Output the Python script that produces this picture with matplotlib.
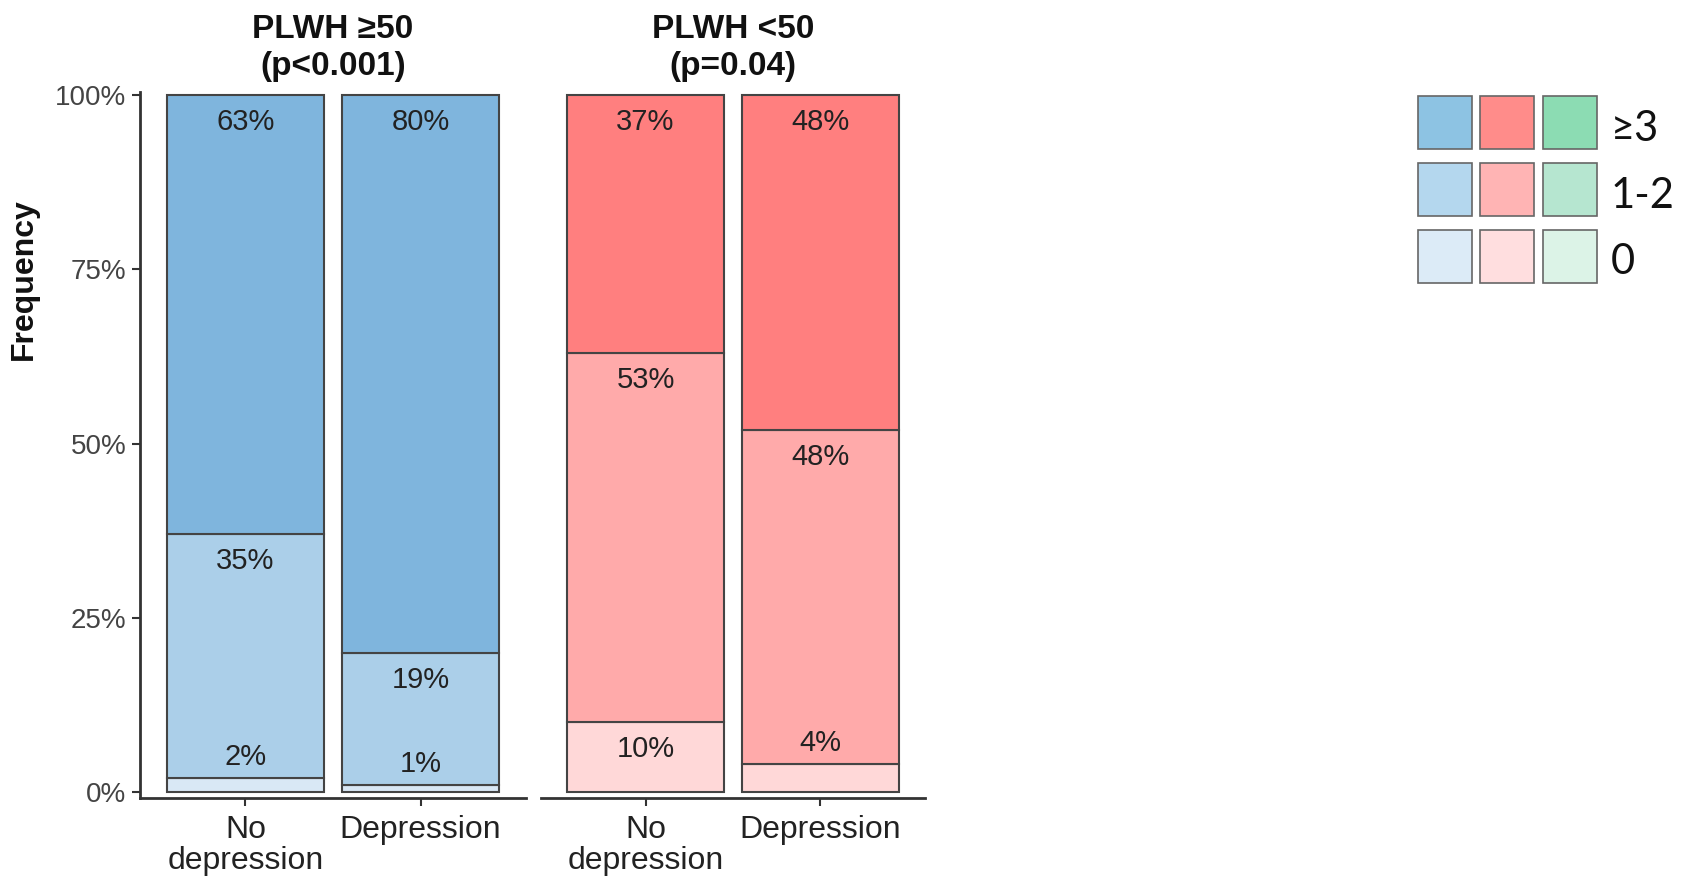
import matplotlib
matplotlib.use("Agg")
import matplotlib.pyplot as plt
from matplotlib.patches import Rectangle
import numpy as np

# ---------------- data ----------------
groups = ["No\ndepression", "Depression"]
panel_titles = ["PLWH \u226550\n(p<0.001)", "PLWH <50\n(p=0.04)"]
levels = ["0", "1-2", "\u22653"]
# percentages per level (0, 1-2, >=3) for each group
older_0 = [2, 1]
older_12 = [35, 19]
older_3 = [63, 80]
younger_0 = [10, 4]
younger_12 = [53, 48]
younger_3 = [37, 48]
yticks = [0, 25, 50, 75, 100]
ytick_labels = ["0%", "25%", "50%", "75%", "100%"]
legend_labels = ["\u22653", "1-2", "0"]
ylabel = "Frequency"

# ---------------- style ----------------
blue = ["#D9E8F5", "#ABCFE9", "#7FB5DD"]
red = ["#FFD8D8", "#FFAAAA", "#FF7F7F"]
legend_cols = [
    ["#8DC3E3", "#FF8C8A", "#8CDCB3"],
    ["#B4D7EE", "#FFB4B4", "#B6E6D0"],
    ["#DCEBF7", "#FFDEDF", "#DCF3E7"],
]
edge = "#444444"
txt = "#222222"
sans = ["Liberation Sans", "DejaVu Sans"]
plt.rcParams["font.family"] = sans

W, H = 1690, 886
fig = plt.figure(figsize=(W / 100, H / 100), dpi=100)


def px_axes(left, top, right, bottom):
    return fig.add_axes([left / W, 1 - bottom / H, (right - left) / W, (bottom - top) / H])


ymin, ymax = -0.86, 100.5
y0px, y100px = 792, 95
ppu = (y0px - y100px) / 100.0
ax_top = y100px - (ymax - 100) * ppu
ax_bot = y0px - ymin * ppu

panels = [
    (px_axes(140.5, ax_top, 525.5, ax_bot), [older_0, older_12, older_3], blue, True),
    (px_axes(540.5, ax_top, 925.5, ax_bot), [younger_0, younger_12, younger_3], red, False),
]

x = np.arange(1, len(groups) + 1)
for (ax, series, cols, show_y), title in zip(panels, panel_titles):
    bottom = np.zeros(len(groups))
    for vals, c in zip(series, cols):
        vals = np.array(vals, dtype=float)
        ax.bar(x, vals, bottom=bottom, width=0.9, color=c, edgecolor=edge, linewidth=1.5, zorder=2)
        tops = bottom + vals
        for xi, v, t in zip(x, vals, tops):
            off = 15 if v < 5 else -19.5
            ax.annotate(f"{int(v)}%", (xi, t), xytext=(0, off), textcoords="offset points",
                        ha="center", va="center", fontsize=21, color=txt, zorder=3)
        bottom = tops
    ax.set_xlim(0.4, 2.6)
    ax.set_ylim(ymin, ymax)
    ax.set_xticks(x)
    ax.set_xticklabels(groups, fontsize=23, color=txt, linespacing=1.05)
    ax.tick_params(axis="x", length=6, width=1.5, color="#333333", pad=6)
    for s in ["top", "right"]:
        ax.spines[s].set_visible(False)
    ax.spines["bottom"].set_linewidth(2)
    ax.spines["bottom"].set_color("#333333")
    if show_y:
        ax.set_yticks(yticks)
        ax.set_yticklabels(ytick_labels, fontsize=20, color="#444444")
        ax.tick_params(axis="y", length=6, width=1.5, color="#333333", pad=4)
        ax.spines["left"].set_linewidth(2)
        ax.spines["left"].set_color("#333333")
    else:
        ax.spines["left"].set_visible(False)
        ax.set_yticks([])
    ax.set_title(title, fontsize=24, fontweight="bold", color="#111111", linespacing=1.25, pad=12)

fig.text(24 / W, 1 - 279 / H, ylabel, rotation=90, ha="center", va="center",
         fontsize=23, fontweight="bold", color="#111111")

# ---------------- legend (grid of swatches) ----------------
lax = fig.add_axes([0, 0, 1, 1])
lax.set_xlim(0, W)
lax.set_ylim(H, 0)
lax.axis("off")
sx0, sdx, sw = 1418, 62.5, 54
sy0, sdy, sh = 96, 67, 53
for r, row in enumerate(legend_cols):
    for c, col in enumerate(row):
        lax.add_patch(Rectangle((sx0 + c * sdx, sy0 + r * sdy), sw, sh, facecolor=col,
                                edgecolor="#666666", linewidth=1.2))
    lax.text(1611, sy0 + r * sdy + sh / 2 + 6, legend_labels[r], fontsize=30, color="#111111",
             ha="left", va="center", family=["Lato", "DejaVu Sans"])

fig.savefig("out.png", dpi=100)
